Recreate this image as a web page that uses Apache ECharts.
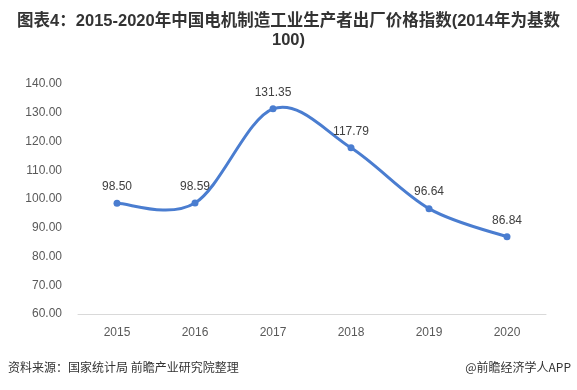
<!DOCTYPE html>
<html><head><meta charset="utf-8">
<script src="https://cdn.jsdelivr.net/npm/echarts@6/dist/echarts.min.js"></script>
<style>html,body{margin:0;padding:0;background:#fff;}#c{width:577px;height:390px;}</style>
</head><body><div id="c"></div>
<script>
const categories = ['2015','2016','2017','2018','2019','2020'];
const values = [98.50, 98.59, 131.35, 117.79, 96.64, 86.84];
const titleText = '图表4：2015-2020年中国电机制造工业生产者出厂价格指数(2014年为基数\n100)';
const sourceText = '资料来源：国家统计局 前瞻产业研究院整理';
const brandText = '@前瞻经济学人APP';
const lineColor = '#4a7dd0';

const chart = echarts.init(document.getElementById('c'));

// Catmull-Rom style smooth curve through data points (via axis coordinates)
function renderCurve(params, api) {
  if (params.dataIndex !== 0) return null;
  const pts = values.map((v, i) => api.coord([i, v]));
  const n = pts.length;
  let d = 'M' + pts[0][0] + ',' + pts[0][1];
  for (let i = 0; i < n - 1; i++) {
    const p0 = pts[Math.max(i - 1, 0)], p1 = pts[i], p2 = pts[i + 1], p3 = pts[Math.min(i + 2, n - 1)];
    const c1x = p1[0] + (p2[0] - p0[0]) / 6, c1y = p1[1] + (p2[1] - p0[1]) / 6;
    const c2x = p2[0] - (p3[0] - p1[0]) / 6, c2y = p2[1] - (p3[1] - p1[1]) / 6;
    d += ' C' + c1x + ',' + c1y + ' ' + c2x + ',' + c2y + ' ' + p2[0] + ',' + p2[1];
  }
  return { type: 'path', shape: { pathData: d }, style: { fill: 'none', stroke: lineColor, lineWidth: 3 } };
}

chart.setOption({
  animation: false,
  title: {
    text: titleText, left: 'center', top: 7,
    textStyle: { fontSize: 16.5, fontWeight: 'bold', color: '#333', lineHeight: 19,
      fontFamily: '"Liberation Sans", "Noto Sans CJK SC", sans-serif' }
  },
  graphic: [
    { type: 'text', left: 8, top: 361, style: { text: sourceText, fontSize: 12, fill: '#333', fontFamily: '"Noto Sans CJK SC", sans-serif' } },
    { type: 'text', right: 6, top: 361, style: { text: brandText, fontSize: 12, fill: '#333', fontFamily: '"Noto Sans CJK SC", sans-serif' } }
  ],
  grid: { left: 78, right: 31, top: 84, bottom: 76 },
  xAxis: {
    type: 'category', data: categories, boundaryGap: true,
    axisLine: { lineStyle: { color: '#d9d9d9' } },
    axisTick: { show: false },
    axisLabel: { color: '#595959', fontSize: 12, margin: 13 }
  },
  yAxis: {
    type: 'value', min: 60, max: 140, interval: 10,
    axisLine: { show: false }, axisTick: { show: false },
    splitLine: { show: false },
    axisLabel: { color: '#595959', fontSize: 12, margin: 16, formatter: v => v.toFixed(2) }
  },
  series: [
    { type: 'custom', data: values.map((v, i) => [i, v]), renderItem: renderCurve, silent: true, z: 2 },
    {
      type: 'line', data: values, smooth: false, z: 3,
      symbol: 'circle', symbolSize: 7,
      lineStyle: { opacity: 0 },
      itemStyle: { color: lineColor },
      label: { show: true, position: 'top', distance: 7, color: '#404040', fontSize: 12, formatter: p => p.value.toFixed(2) }
    }
  ]
});
</script></body></html>
